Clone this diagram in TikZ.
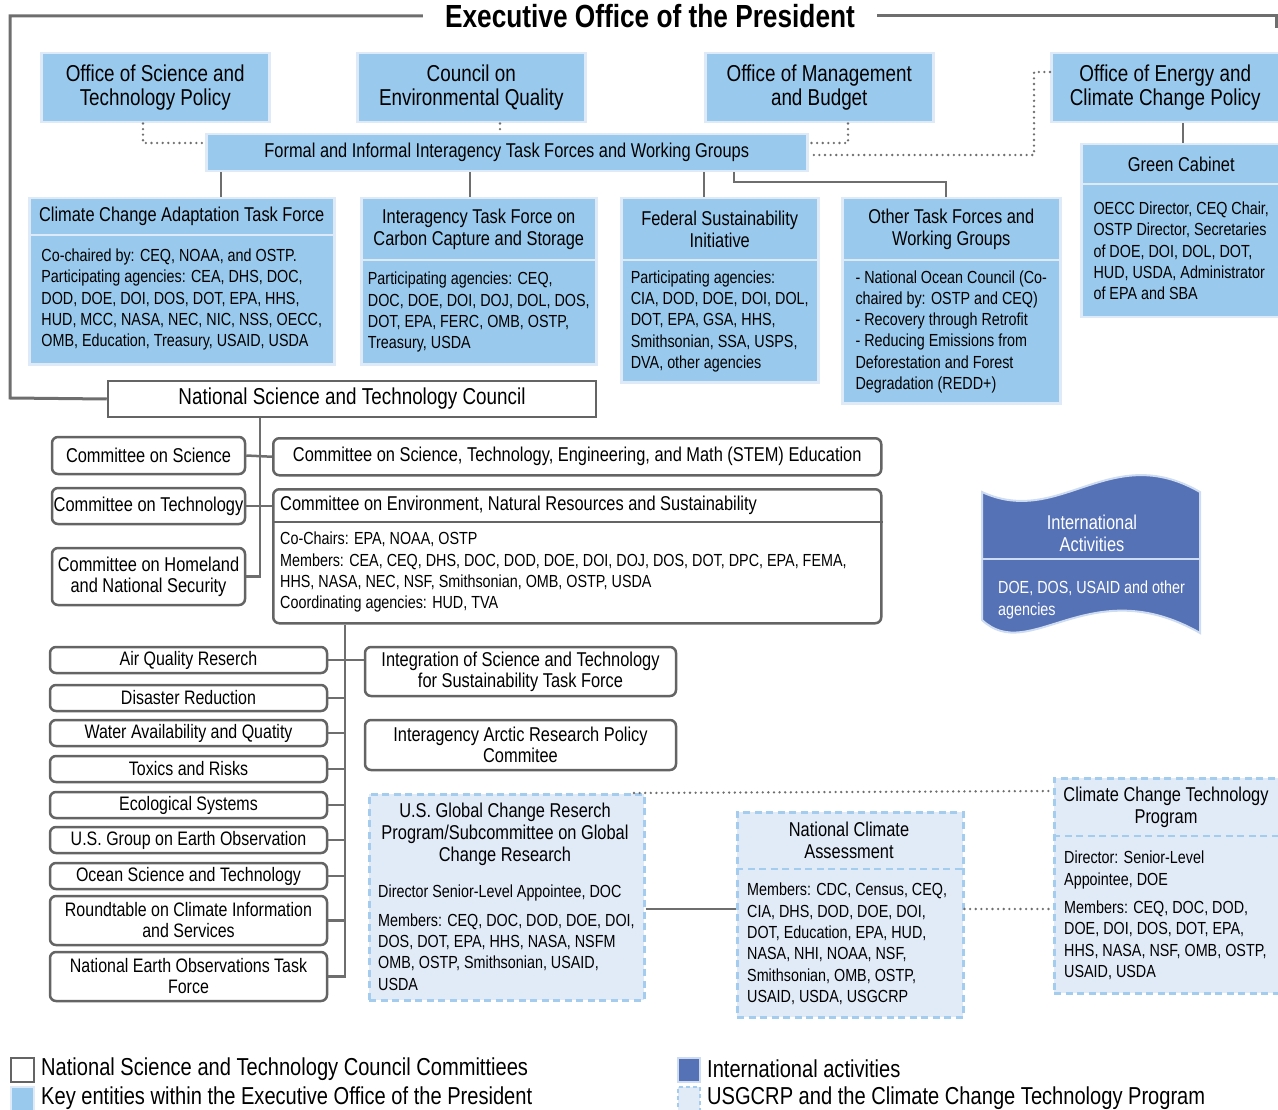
\documentclass[tikz,border=0pt]{standalone}
\usepackage{fontspec}
\setmainfont{Liberation Sans}[FakeStretch=0.82]
\usepackage{tikz}

\definecolor{keyblue}{RGB}{153,202,237}
\definecolor{keyrim}{RGB}{222,234,247}
\definecolor{intlblue}{RGB}{86,114,182}
\definecolor{intlrim}{RGB}{206,220,241}
\definecolor{usgfill}{RGB}{225,235,248}
\definecolor{usgdash}{RGB}{163,204,238}
\definecolor{linegray}{RGB}{110,110,110}
\definecolor{boxgray}{RGB}{100,100,100}

\newcommand{\fsTitle}{\fontsize{32}{34}\selectfont\bfseries}
\newcommand{\fsTop}{\fontsize{23}{24}\selectfont}
\newcommand{\fsNstc}{\fontsize{23}{24}\selectfont}
\newcommand{\fsHead}{\fontsize{20}{22}\selectfont}
\newcommand{\fsCom}{\fontsize{20}{21}\selectfont}
\newcommand{\fsSub}{\fontsize{19.5}{21}\selectfont}
\newcommand{\fsBody}{\fontsize{17.5}{21.3}\selectfont}
\newcommand{\fsLeg}{\fontsize{24.5}{29}\selectfont}

\tikzset{
  keyhead/.style={draw=keyrim, fill=keyblue, line width=2.5pt, anchor=north west, align=center, inner sep=0pt, font=\fsHead},
  keybody/.style={keyhead, align=left, font=\fsBody},
  nstcbox/.style={draw=boxgray, fill=white, line width=2.5pt, inner sep=0pt, font=\fsCom},
  combox/.style={nstcbox, rounded corners=6pt, align=center},
  usgbox/.style={draw=usgdash, fill=usgfill, line width=2.5pt, dash pattern=on 7pt off 4.5pt, anchor=north west, inner sep=0pt},
  usgline/.style={draw=usgdash, line width=2.5pt, dash pattern=on 7pt off 4.5pt},
  txt/.style={inner sep=0pt, align=left, font=\fsBody},
  link/.style={draw=linegray, line width=2.5pt},
  dotlink/.style={draw=linegray, line width=2.6pt, line cap=round, dash pattern=on 0pt off 5.6pt},
  frame/.style={draw=linegray, line width=3pt},
}

\begin{document}
\begin{tikzpicture}[x=1pt,y=1pt,yscale=-1]
\useasboundingbox (0,0) rectangle (1278,1110);

% Text Node
\node (title) [inner xsep=22pt, inner ysep=0pt, font=\fsTitle] at (650,16) {Executive Office of the President};

%Shape: Rectangle
\node (ostp) [keyhead, font=\fsTop, minimum width=228pt, minimum height=69pt] at (40,52) {Office of Science and\\Technology Policy};
\node (ceq) [keyhead, font=\fsTop, minimum width=228pt, minimum height=69pt] at (356,52) {Council on\\Environmental Quality};
\node (omb) [keyhead, font=\fsTop, minimum width=228pt, minimum height=69pt] at (704,52) {Office of Management\\and Budget};
\node (oecc) [keyhead, font=\fsTop, minimum width=228pt, minimum height=69pt] at (1050,52) {Office of Energy and\\Climate Change Policy};
\node (formal) [keyhead, minimum width=601pt, minimum height=37pt] at (205,133) {Formal and Informal Interagency Task Forces and Working Groups};

%Shape: Rectangle
\node (ccatf) [keyhead, minimum width=305pt, minimum height=37pt] at (28,197) {Climate Change Adaptation Task Force};
\node (ccatf-b) [keybody, minimum width=305pt, minimum height=129pt] at (28,234) {Co-chaired by: CEQ, NOAA, and OSTP.\\Participating agencies: CEA, DHS, DOC,\\DOD, DOE, DOI, DOS, DOT, EPA, HHS,\\HUD, MCC, NASA, NEC, NIC, NSS, OECC,\\OMB, Education, Treasury, USAID, USDA};
\node (itf) [keyhead, minimum width=235pt, minimum height=62pt] at (360,197) {Interagency Task Force on\\Carbon Capture and Storage};
\node (itf-b) [keybody, minimum width=235pt, minimum height=104pt] at (360,259) {Participating agencies: CEQ,\\DOC, DOE, DOI, DOJ, DOL, DOS,\\DOT, EPA, FERC, OMB, OSTP,\\Treasury, USDA};
\node (fsi) [keyhead, minimum width=197pt, minimum height=62pt] at (620,197) {Federal Sustainability\\Initiative};
\node (fsi-b) [keybody, minimum width=197pt, minimum height=122pt] at (620,259) {Participating agencies:\\CIA, DOD, DOE, DOI, DOL,\\DOT, EPA, GSA, HHS,\\Smithsonian, SSA, USPS,\\DVA, other agencies};
\node (othertf) [keyhead, minimum width=218pt, minimum height=62pt] at (841,197) {Other Task Forces and\\Working Groups};
\node (othertf-b) [keybody, minimum width=218pt, minimum height=143pt] at (841,259) {- National Ocean Council (Co-\\chaired by: OSTP and CEQ)\\- Recovery through Retrofit\\- Reducing Emissions from\\Deforestation and Forest\\Degradation (REDD+)};
\node (gc) [keyhead, minimum width=200pt, minimum height=40pt] at (1080,143) {Green Cabinet};
\node (gc-b) [keybody, minimum width=200pt, minimum height=133pt] at (1080,183) {OECC Director, CEQ Chair,\\OSTP Director, Secretaries\\of DOE, DOI, DOL, DOT,\\HUD, USDA, Administrator\\of EPA and SBA};

%Shape: Rectangle
\node (nstc) [nstcbox, font=\fsNstc, minimum width=488pt, minimum height=36pt] at (352,399) {National Science and Technology Council};

%Shape: Rounded Rect
\node (cos) [combox, minimum width=193pt, minimum height=37pt] at (148.5,455.5) {Committee on Science};
\node (cot) [combox, minimum width=193pt, minimum height=36pt] at (148.5,506) {Committee on Technology};
\node (cohs) [combox, minimum width=193pt, minimum height=57pt] at (148.5,576.5) {Committee on Homeland\\and National Security};
\node (stem) [combox, anchor=north west, minimum width=608pt, minimum height=37pt] at (272,437) {Committee on Science, Technology, Engineering, and Math (STEM) Education};
\node (cenrs) [combox, anchor=north west, minimum width=608pt, minimum height=134pt] at (272,488) {};
\draw [draw=boxgray, line width=2.5pt] (cenrs.west |- 0,522) -- (cenrs.east |- 0,522);
% Text Node
\node (cenrs-t) [txt, font=\fsCom, anchor=west] at (280,505) {Committee on Environment, Natural Resources and Sustainability};
\node (cenrs-b) [txt, anchor=north west] at (280,532) {Co-Chairs: EPA, NOAA, OSTP\\Members: CEA, CEQ, DHS, DOC, DOD, DOE, DOI, DOJ, DOS, DOT, DPC, EPA, FEMA,\\HHS, NASA, NEC, NSF, Smithsonian, OMB, OSTP, USDA\\Coordinating agencies: HUD, TVA};

%Shape: Rounded Rect
\node (aqr) [combox, font=\fsSub, minimum width=277pt, minimum height=26pt] at (188.5,660) {Air Quality Reserch};
\node (dr) [combox, font=\fsSub, minimum width=277pt, minimum height=26pt] at (188.5,698) {Disaster Reduction};
\node (wa) [combox, font=\fsSub, minimum width=277pt, minimum height=26pt] at (188.5,733) {Water Availability and Quatity};
\node (tr) [combox, font=\fsSub, minimum width=277pt, minimum height=26pt] at (188.5,769) {Toxics and Risks};
\node (es) [combox, font=\fsSub, minimum width=277pt, minimum height=26pt] at (188.5,805) {Ecological Systems};
\node (usgeo) [combox, font=\fsSub, minimum width=277pt, minimum height=26pt] at (188.5,840) {U.S. Group on Earth Observation};
\node (osat) [combox, font=\fsSub, minimum width=277pt, minimum height=26pt] at (188.5,876) {Ocean Science and Technology};
\node (rcis) [combox, font=\fsSub, minimum width=277pt, minimum height=49pt] at (188.5,920.5) {Roundtable on Climate Information\\and Services};
\node (neotf) [combox, font=\fsSub, minimum width=277pt, minimum height=49pt] at (188.5,976.5) {National Earth Observations Task\\Force};
\node (isttf) [combox, minimum width=311pt, minimum height=49pt] at (520.5,671.5) {Integration of Science and Technology\\for Sustainability Task Force};
\node (iarpc) [combox, minimum width=311pt, minimum height=50pt] at (520.5,745) {Interagency Arctic Research Policy\\Commitee};

%Shape: Rectangle
\node (usgcrp) [usgbox, minimum width=275pt, minimum height=206pt] at (368,793) {};
\node (usgcrp-t) [txt, font=\fsHead, align=center] at (505,834) {U.S. Global Change Reserch\\Program/Subcommittee on Global\\Change Research};
\node (usgcrp-b) [txt, anchor=north west] at (378,885) {Director Senior-Level Appointee, DOC\\[7pt]Members: CEQ, DOC, DOD, DOE, DOI,\\DOS, DOT, EPA, HHS, NASA, NSFM\\OMB, OSTP, Smithsonian, USAID,\\USDA};
\node (nca) [usgbox, minimum width=226pt, minimum height=205pt] at (736,811) {};
\draw [usgline] (nca.west |- 0,869) -- (nca.east |- 0,869);
\node (nca-t) [txt, font=\fsHead, align=center] at (849,840.5) {National Climate\\Assessment};
\node (nca-b) [txt, anchor=north west] at (747,883) {Members: CDC, Census, CEQ,\\CIA, DHS, DOD, DOE, DOI,\\DOT, Education, EPA, HUD,\\NASA, NHI, NOAA, NSF,\\Smithsonian, OMB, OSTP,\\USAID, USDA, USGCRP};
\node (cctp) [usgbox, minimum width=227pt, minimum height=215pt] at (1053,777) {};
\draw [usgline] (cctp.west |- 0,836) -- (cctp.east |- 0,836);
\node (cctp-t) [txt, font=\fsHead, align=center] at (1166,807.5) {Climate Change Technology\\Program};
\node (cctp-b) [txt, anchor=north west] at (1064,851) {Director: Senior-Level\\Appointee, DOE\\[7pt]Members: CEQ, DOC, DOD,\\DOE, DOI, DOS, DOT, EPA,\\HHS, NASA, NSF, OMB, OSTP,\\USAID, USDA};

%Shape: Wave
\filldraw [draw=intlrim, fill=intlblue, line width=2pt] (982,492) .. controls (1060,528) and (1110,440) .. (1200,492) -- (1200,633) .. controls (1090,570) and (1030,665) .. (982,620) -- cycle;
\draw [draw=intlrim, line width=2pt] (982,559) -- (1200,559);
\node (intl-t) [txt, font=\fsHead, align=center, text=white] at (1092,533) {International\\Activities};
\node (intl-b) [txt, anchor=north west, text=white] at (998,581) {DOE, DOS, USAID and other\\agencies};

%Straight Lines
\draw [frame] (title.west) -- (10,16) -- (10,398) -- (nstc.west);
\draw [frame] (title.east) -- (1276,16) -- (1276,28);
\draw [dotlink] (ostp.south -| 143,0) |- (formal.west |- 0,143);
\draw [dotlink] (ceq.south -| 500,0) -- (formal.north -| 500,0);
\draw [dotlink] (omb.south -| 848,0) |- (formal.east |- 0,143);
\draw [dotlink] (oecc.west |- 0,72) -- (1034,72) |- (formal.east |- 0,155);
\draw [link] (formal.south -| 221,0) -- (ccatf.north -| 221,0);
\draw [link] (formal.south -| 470,0) -- (itf.north -| 470,0);
\draw [link] (formal.south -| 704,0) -- (fsi.north -| 704,0);
\draw [link] (formal.south -| 734,0) |- (946,182) -- (othertf.north -| 946,0);
\draw [link] (oecc.south -| 1183,0) -- (gc.north -| 1183,0);
\draw [link] (nstc.south -| 260,0) |- (cohs.east);
\draw [link] (cos.east) -- (stem.west);
\draw [link] (cot.east) -- (cenrs.west |- cot.east);
\draw [link] (cenrs.south -| 345,0) |- (neotf.east);
\draw [link] (aqr.east) -- (isttf.west |- aqr.east);
\draw [link] (dr.east) -- (dr.east -| 345,0);
\draw [link] (wa.east) -- (wa.east -| 345,0);
\draw [link] (tr.east) -- (tr.east -| 345,0);
\draw [link] (es.east) -- (es.east -| 345,0);
\draw [link] (usgeo.east) -- (usgeo.east -| 345,0);
\draw [link] (osat.east) -- (osat.east -| 345,0);
\draw [link] (rcis.east) -- (rcis.east -| 345,0);
\draw [dotlink] (usgcrp.north -| 634,0) -- (cctp.west |- 0,791);
\draw [link] (usgcrp.east |- 0,909) -- (nca.west |- 0,909);
\draw [dotlink] (nca.east |- 0,909) -- (cctp.west |- 0,909);

%Legend
\node (lg-nstc) [nstcbox, anchor=north west, line width=2pt, minimum width=23pt, minimum height=24pt] at (10,1057) {};
\node (lg-key) [keyhead, line width=2pt, minimum width=23pt, minimum height=24pt] at (10,1086) {};
\node (lg-intl) [draw=intlrim, fill=intlblue, line width=2pt, anchor=north west, minimum width=22pt, minimum height=24pt, inner sep=0pt] at (677,1057) {};
\node (lg-usg) [usgbox, line width=2pt, dash pattern=on 4pt off 3pt, minimum width=22pt, minimum height=24pt] at (677,1086) {};
% Text Node
\node (lg-nstc-t) [txt, font=\fsLeg, anchor=west] at (41,1069) {National Science and Technology Council Committiees};
\node (lg-key-t) [txt, font=\fsLeg, anchor=west] at (41,1098) {Key entities within the Executive Office of the President};
\node (lg-intl-t) [txt, font=\fsLeg, anchor=west] at (707,1069) {International activities};
\node (lg-usg-t) [txt, font=\fsLeg, anchor=west] at (707,1098) {USGCRP and the Climate Change Technology Program};

\end{tikzpicture}
\end{document}
